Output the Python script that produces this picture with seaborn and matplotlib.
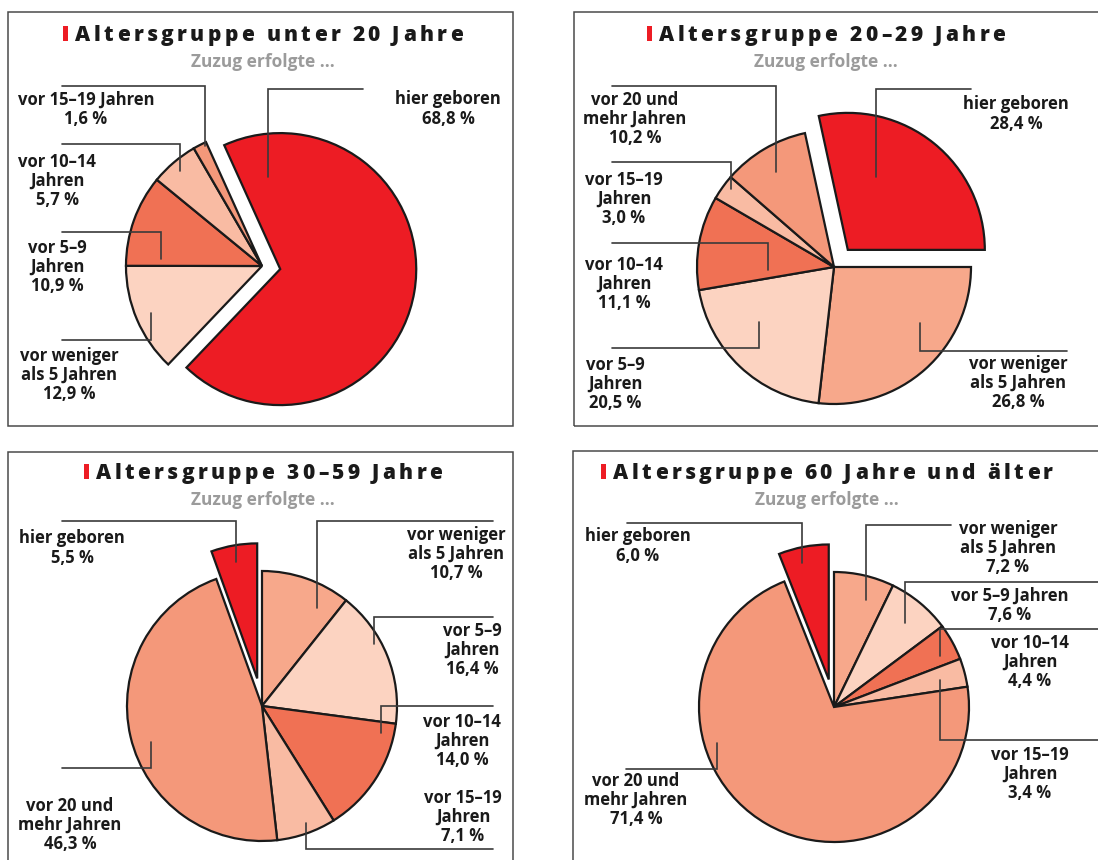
import matplotlib
matplotlib.use("Agg")
import matplotlib.pyplot as plt
from matplotlib.patches import Rectangle
from matplotlib.font_manager import FontProperties
from matplotlib.textpath import TextToPath
import seaborn as sns

# ---------------- data ----------------
titles = ["Altersgruppe unter 20 Jahre", "Altersgruppe 20–29 Jahre",
          "Altersgruppe 30–59 Jahre", "Altersgruppe 60 Jahre und älter"]
subtitle = "Zuzug erfolgte ..."

cats_u20 = ["vor weniger\nals 5 Jahren", "vor 5–9\nJahren", "vor 10–14\nJahren",
            "vor 15–19 Jahren", "hier geboren"]
vals_u20 = [12.9, 10.9, 5.7, 1.6, 68.8]

cats_20_29 = ["vor weniger\nals 5 Jahren", "vor 5–9\nJahren", "vor 10–14\nJahren",
              "vor 15–19\nJahren", "vor 20 und\nmehr Jahren", "hier geboren"]
vals_20_29 = [26.8, 20.5, 11.1, 3.0, 10.2, 28.4]

cats_30_59 = ["vor weniger\nals 5 Jahren", "vor 5–9\nJahren", "vor 10–14\nJahren",
              "vor 15–19\nJahren", "vor 20 und\nmehr Jahren", "hier geboren"]
vals_30_59 = [10.7, 16.4, 14.0, 7.1, 46.3, 5.5]

cats_60 = ["vor weniger\nals 5 Jahren", "vor 5–9 Jahren", "vor 10–14\nJahren",
           "vor 15–19\nJahren", "vor 20 und\nmehr Jahren", "hier geboren"]
vals_60 = [7.2, 7.6, 4.4, 3.4, 71.4, 6.0]

# ---------------- style / layout ----------------
W, H, DPI = 1098, 860, 100
RED = "#ED1C24"
C_LIGHT = "#FCD3C1"
C_LT5 = "#F7A88B"
C_ORANGE = "#F07154"
C_PEACH = "#F9BBA3"
C_SALMON = "#F4987A"

sns.set_theme(style="white")
plt.rcParams["font.family"] = ["Open Sans", "DejaVu Sans"]

panels = [
    dict(cats=cats_u20, vals=vals_u20, title=titles[0],
         colors=[C_LIGHT, C_ORANGE, C_PEACH, C_SALMON, RED],
         cx=262, cy=266, r=136, start=226.4, expl=18.5,
         box=(8, 12, 505, 414), tcx=263, tb=41, sy=62,
         labels=[(69, 375), (57, 267), (57, 181), (86, 109), (448, 109)],
         leaders=[(62, 340, 151, 313), (62, 232, 161, 259), (62, 144, 180, 171),
                  (62, 86, 205, 146), (363, 89, 268, 177)]),
    dict(cats=cats_20_29, vals=vals_20_29, title=titles[1],
         colors=[C_LT5, C_LIGHT, C_ORANGE, C_PEACH, C_SALMON, RED],
         cx=834, cy=267, r=137, start=0.0, expl=22,
         box=(574, 12, 560, 414), tcx=826, tb=41, sy=62,
         labels=[(1018, 383), (615, 384), (624, 284), (624, 199), (635, 119), (1016, 114)],
         leaders=[(1067, 351, 920, 323), (612, 348, 759, 322), (612, 243, 768, 270),
                  (612, 162, 731, 189), (612, 86, 776, 172), (971, 89, 876, 177)]),
    dict(cats=cats_30_59, vals=vals_30_59, title=titles[2],
         colors=[C_LT5, C_LIGHT, C_ORANGE, C_PEACH, C_SALMON, RED],
         cx=262, cy=706, r=135, start=90.0, expl=28,
         box=(8, 452, 505, 420), tcx=263, tb=479, sy=500,
         labels=[(456, 554), (472, 650), (462, 741), (463, 817), (70, 825), (72, 548)],
         leaders=[(493, 521, 317, 608), (493, 617, 374, 644), (493, 706, 381, 733),
                  (493, 849, 306, 823), (62, 768, 151, 742), (62, 521, 236, 562)]),
    dict(cats=cats_60, vals=vals_60, title=titles[3],
         colors=[C_LT5, C_LIGHT, C_ORANGE, C_PEACH, C_SALMON, RED],
         cx=834, cy=707, r=135, start=90.0, expl=28,
         box=(573, 451, 560, 420), tcx=827, tb=479, sy=500,
         labels=[(1008, 548), (1010, 605), (1030, 662), (1030, 774), (636, 800), (638, 546)],
         leaders=[(951, 525, 866, 600), (1100, 582, 905, 623), (1100, 629, 940, 656),
                  (1100, 740, 940, 680), (626, 769, 717, 743), (627, 523, 802, 563)]),
]

fig = plt.figure(figsize=(W / DPI, H / DPI), dpi=DPI)
fig.patch.set_facecolor("white")
ax = fig.add_axes([0, 0, 1, 1])

def Y(y):
    return H - y

ttp = TextToPath()
title_prop = FontProperties(family="Open Sans", weight="heavy", size=15)

def w_px(s, prop):
    w, _, _ = ttp.get_text_width_height_descent(s, prop, ismath=False)
    return w * DPI / 72.0

def char_adv(c, prop):
    if c == " ":
        return w_px("a a", prop) - w_px("aa", prop)
    return w_px(c, prop)

def spaced_title(text, cx, base, tracking=3.4):
    advs = [char_adv(c, title_prop) for c in text]
    total = sum(advs) + tracking * (len(text) - 1)
    bar_w, gap = 5, 7
    group = bar_w + gap + total
    x0 = cx - group / 2
    ax.add_patch(Rectangle((x0, Y(base)), bar_w, 15, facecolor=RED,
                           edgecolor="none", zorder=5))
    x = x0 + bar_w + gap
    for c, a in zip(text, advs):
        if c != " ":
            ax.text(x, Y(base), c, fontproperties=title_prop, color="#1a1a1a",
                    ha="left", va="baseline", zorder=5)
        x += a + tracking

def fmt(v):
    return f"{v:.1f}".replace(".", ",") + " %"

for p in panels:
    bx, by, bw, bh = p["box"]
    ax.add_patch(Rectangle((bx, Y(by) - bh), bw, bh, facecolor="none",
                           edgecolor="#4a4a4a", linewidth=1.1, zorder=1))
    n = len(p["vals"])
    explode = [0.0] * (n - 1) + [p["expl"]]
    ax.pie(p["vals"], colors=p["colors"], startangle=p["start"], counterclock=False,
           center=(p["cx"], Y(p["cy"])), radius=p["r"], explode=explode,
           wedgeprops=dict(edgecolor="#1a1a1a", linewidth=1.6, zorder=2),
           frame=True)
    spaced_title(p["title"], p["tcx"], p["tb"])
    ax.text(p["tcx"], Y(p["sy"]), subtitle, ha="center", va="center",
            fontsize=12.5, fontweight="bold", color="#9b9b9b", zorder=5)
    for cat, v, (lx, ly), (x1, yh, xc, ye) in zip(p["cats"], p["vals"],
                                                  p["labels"], p["leaders"]):
        ax.text(lx, Y(ly), cat + "\n" + fmt(v), ha="center", va="center",
                multialignment="center", fontsize=12, fontweight="bold",
                color="#1a1a1a", linespacing=1.08, zorder=5)
        ax.plot([x1, xc, xc], [Y(yh), Y(yh), Y(ye)], color="#3a3a3a",
                linewidth=1.2, solid_joinstyle="miter", zorder=4)

ax.set_xlim(0, W)
ax.set_ylim(0, H)
ax.set_aspect("auto")
ax.axis("off")
fig.savefig("out.png", dpi=DPI, facecolor="white")
